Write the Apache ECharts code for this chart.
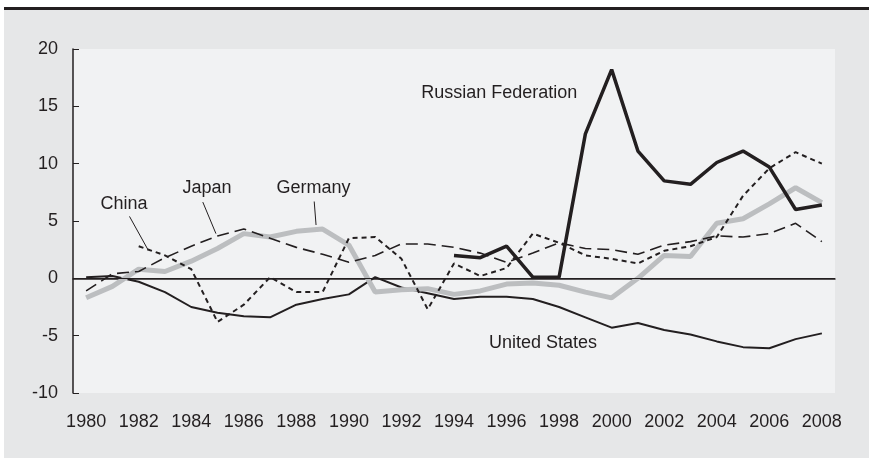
<!DOCTYPE html>
<html>
<head>
<meta charset="utf-8">
<script src="https://cdn.jsdelivr.net/npm/echarts@6/dist/echarts.min.js"></script>
<style>
  body { margin: 0; background: #fff; }
  #wrap { position: relative; width: 869px; height: 458px; }
  #panel { position: absolute; left: 4px; top: 7px; width: 865px; height: 448px;
           border-top: 3px solid #231f20; background: #e6e7e8; }
  #chart { position: absolute; left: 0; top: 0; width: 869px; height: 458px; }
</style>
</head>
<body>
<div id="wrap">
  <div id="panel"></div>
  <div id="chart"></div>
</div>
<script>
// 经常账户余额（占GDP %）
const years = [];
for (let y = 1980; y <= 2008; y++) years.push(String(y));

const yTicks = { min: -10, max: 20, step: 5 };

const unitedStates = [0.1, 0.2, -0.3, -1.2, -2.5, -3.0, -3.3, -3.4, -2.3, -1.8,
  -1.4, 0.1, -0.8, -1.3, -1.8, -1.6, -1.6, -1.8, -2.5, -3.4,
  -4.3, -3.9, -4.5, -4.9, -5.5, -6.0, -6.1, -5.3, -4.8];

const germany = [-1.7, -0.7, 0.8, 0.6, 1.5, 2.6, 3.9, 3.6, 4.1, 4.3,
  2.9, -1.2, -1.0, -0.9, -1.4, -1.1, -0.5, -0.4, -0.6, -1.2,
  -1.7, 0.0, 2.0, 1.9, 4.8, 5.2, 6.5, 7.9, 6.6];

const japan = [-1.1, 0.4, 0.6, 1.8, 2.8, 3.7, 4.3, 3.5, 2.7, 2.1,
  1.4, 2.0, 3.0, 3.0, 2.7, 2.2, 1.4, 2.2, 3.1, 2.6,
  2.5, 2.1, 2.9, 3.2, 3.7, 3.6, 3.9, 4.8, 3.2];

const china = [null, null, 2.8, 2.0, 0.8, -3.8, -2.3, 0.1, -1.2, -1.2,
  3.5, 3.6, 1.7, -2.7, 1.3, 0.2, 0.9, 3.9, 3.1, 2.0,
  1.7, 1.3, 2.4, 2.8, 3.6, 7.2, 9.6, 11.0, 10.0];

const russia = [null, null, null, null, null, null, null, null, null, null,
  null, null, null, null, 2.0, 1.8, 2.8, 0.1, 0.1, 12.6,
  18.2, 11.1, 8.5, 8.2, 10.1, 11.1, 9.7, 6.0, 6.4];

// 标注：[文字, 年份下标, 数值]，引线 [x1, y1, x2, y2]
const labels = [
  ['China', 1.44, 6.5, [1.65, 5.4, 2.34, 2.55]],
  ['Japan', 4.6, 7.9, [4.44, 6.65, 4.94, 3.9]],
  ['Germany', 8.65, 7.9, [8.68, 6.7, 8.75, 4.65]],
  ['Russian Federation', 15.72, 16.16, null],
  ['United States', 17.39, -5.6, null]
];

const ink = '#231f20';
const font = 'Liberation Sans, Arial, sans-serif';

const chart = echarts.init(document.getElementById('chart'));

function line(name, data, style) {
  return {
    name, type: 'line', data, symbol: 'none', connectNulls: false,
    lineStyle: style, silent: true, animation: false
  };
}

const option = {
  animation: false,
  grid: {
    left: 73, right: 34, top: 49, bottom: 65,
    show: true, backgroundColor: '#f1f2f3', borderWidth: 0
  },
  xAxis: {
    type: 'category',
    data: years,
    boundaryGap: true,
    axisLine: { lineStyle: { color: ink, width: 1.5 } },
    axisTick: { inside: true, length: 6, interval: 0, lineStyle: { color: ink, width: 1 } },
    axisLabel: { interval: 1, color: ink, fontSize: 18, fontFamily: font, margin: 20 },
    splitLine: { show: false }
  },
  yAxis: {
    type: 'value',
    min: yTicks.min, max: yTicks.max, interval: yTicks.step,
    axisLine: { show: true, lineStyle: { color: ink, width: 1.5 } },
    axisTick: { show: true, inside: true, length: 6, lineStyle: { color: ink, width: 1 } },
    axisLabel: { color: ink, fontSize: 18, fontFamily: font, margin: 15 },
    splitLine: { show: false }
  },
  series: [
    Object.assign(line('United States', unitedStates, { color: ink, width: 2 }), {
      markLine: {
        silent: true, symbol: 'none', label: { show: false },
        lineStyle: { color: ink, width: 1, type: 'solid' },
        data: [{ yAxis: 0 }]
      }
    }),
    line('Germany', germany, { color: '#bcbec0', width: 5 }),
    line('Japan', japan, { color: ink, width: 1.6, type: [12, 6] }),
    line('China', china, { color: ink, width: 2, type: [5, 4] }),
    line('Russian Federation', russia, { color: ink, width: 3.5 })
  ]
};

chart.setOption(option);

// 用坐标轴换算标注位置
const p0 = chart.convertToPixel({ gridIndex: 0 }, [0, 0]);
const p1 = chart.convertToPixel({ gridIndex: 0 }, [1, 0]);
const dx = p1[0] - p0[0];
function toPx(i, v) {
  const py = chart.convertToPixel({ yAxisIndex: 0 }, v);
  return [p0[0] + i * dx, py];
}

const graphic = [];
labels.forEach(([text, i, v, lead]) => {
  const [x, y] = toPx(i, v);
  graphic.push({
    type: 'text', x, y, silent: true,
    style: { text, fill: ink, font: '18px ' + font, align: 'center', verticalAlign: 'middle' }
  });
  if (lead) {
    const a = toPx(lead[0], lead[1]);
    const b = toPx(lead[2], lead[3]);
    graphic.push({
      type: 'line', silent: true,
      shape: { x1: a[0], y1: a[1], x2: b[0], y2: b[1] },
      style: { stroke: ink, lineWidth: 1 }
    });
  }
});
chart.setOption({ graphic });
</script>
</body>
</html>
